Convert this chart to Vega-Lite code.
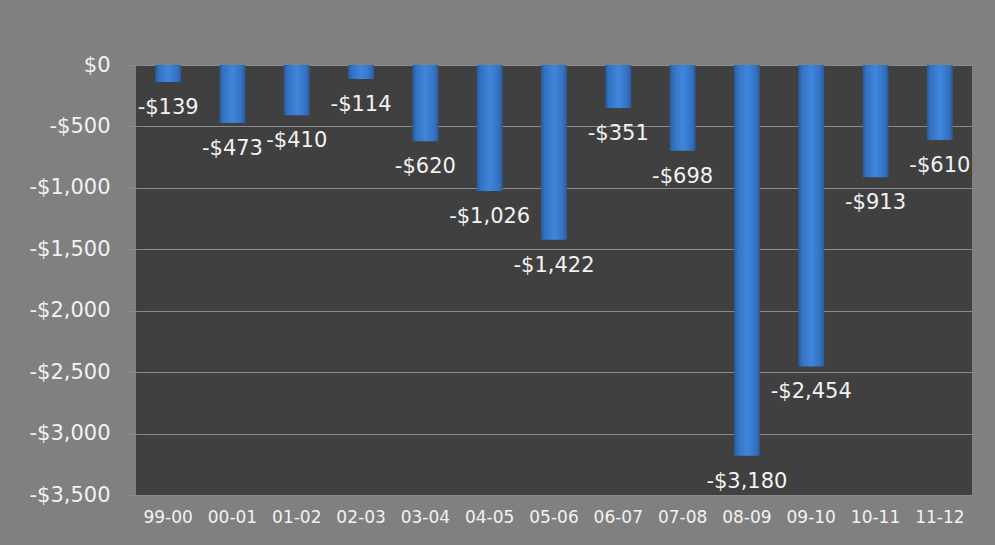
{
  "$schema": "https://vega.github.io/schema/vega-lite/v6.json",
  "width": 836,
  "height": 430,
  "autosize": {"type": "none"},
  "padding": {"left": 136, "top": 65, "right": 23, "bottom": 50},
  "background": "#808080",
  "config": {
    "view": {"fill": "#404040", "stroke": null},
    "font": "DejaVu Sans"
  },
  "data": {
    "values": [
      {"year": "99-00", "value": -139, "label": "-$139"},
      {"year": "00-01", "value": -473, "label": "-$473"},
      {"year": "01-02", "value": -410, "label": "-$410"},
      {"year": "02-03", "value": -114, "label": "-$114"},
      {"year": "03-04", "value": -620, "label": "-$620"},
      {"year": "04-05", "value": -1026, "label": "-$1,026"},
      {"year": "05-06", "value": -1422, "label": "-$1,422"},
      {"year": "06-07", "value": -351, "label": "-$351"},
      {"year": "07-08", "value": -698, "label": "-$698"},
      {"year": "08-09", "value": -3180, "label": "-$3,180"},
      {"year": "09-10", "value": -2454, "label": "-$2,454"},
      {"year": "10-11", "value": -913, "label": "-$913"},
      {"year": "11-12", "value": -610, "label": "-$610"}
    ]
  },
  "encoding": {
    "x": {
      "field": "year",
      "type": "nominal",
      "sort": null,
      "scale": {"paddingInner": 0.6, "paddingOuter": 0.3},
      "axis": {
        "title": null,
        "labelAngle": 0,
        "labelFont": "DejaVu Sans",
        "labelFontSize": 17,
        "labelColor": "#f2f2f2",
        "labelPadding": 14,
        "ticks": false,
        "domain": false
      }
    },
    "y": {
      "field": "value",
      "type": "quantitative",
      "scale": {"domain": [-3500, 0], "nice": false},
      "axis": {
        "title": null,
        "values": [0, -500, -1000, -1500, -2000, -2500, -3000, -3500],
        "labelExpr": "(datum.value < 0 ? '-' : '') + '$' + format(abs(datum.value), ',')",
        "labelFont": "DejaVu Sans",
        "labelFontSize": 21,
        "labelColor": "#f2f2f2",
        "labelPadding": 16,
        "tickSize": 10,
        "tickColor": "#8a8a8a",
        "domain": false,
        "grid": true,
        "gridColor": "#8a8a8a",
        "gridWidth": 1
      }
    }
  },
  "layer": [
    {
      "mark": {
        "type": "bar",
        "color": {
          "gradient": "linear",
          "x1": 0, "x2": 1, "y1": 0, "y2": 0,
          "stops": [
            {"offset": 0, "color": "#2a5b9c"},
            {"offset": 0.15, "color": "#3472c2"},
            {"offset": 0.5, "color": "#3f86dc"},
            {"offset": 0.85, "color": "#3472c2"},
            {"offset": 1, "color": "#2a5b9c"}
          ]
        }
      }
    },
    {
      "mark": {
        "type": "text",
        "baseline": "middle",
        "align": "center",
        "dy": 26,
        "font": "DejaVu Sans",
        "fontSize": 21,
        "color": "#f2f2f2"
      },
      "encoding": {"text": {"field": "label"}}
    }
  ]
}
